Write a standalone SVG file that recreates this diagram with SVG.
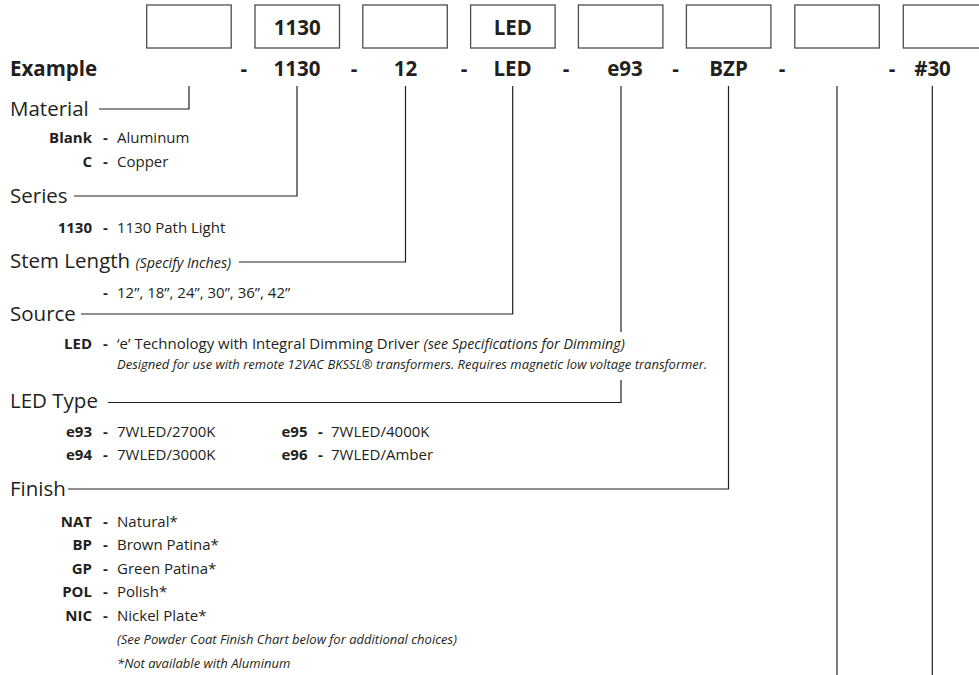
<svg xmlns="http://www.w3.org/2000/svg" width="979" height="675" viewBox="0 0 979 675">
<style>
text { font-family: "Open Sans", "Liberation Sans", sans-serif; fill: #231f20; }
.box { fill: #fff; stroke: #4d4d4d; stroke-width: 1.3; }
.bt { font-size: 20.5px; font-weight: 700; text-anchor: middle; }
.h { font-size: 20.5px; }
.ex { font-size: 20.5px; font-weight: 700; }
.exc { font-size: 20.5px; font-weight: 700; text-anchor: middle; }
.code { font-size: 15px; font-weight: 700; text-anchor: end; }
.dash { font-size: 15px; font-weight: 700; text-anchor: middle; }
.desc { font-size: 15px; }
.it { font-size: 13px; font-style: italic; }
.iti { font-size: 14.3px; font-style: italic; }
.conn { stroke: #231f20; stroke-width: 1.2; fill: none; }
</style>

<g id="code-boxes">
  <g id="box-material"><rect class="box" x="146.7" y="5" width="84.5" height="43"/></g>
  <g id="box-series"><rect class="box" x="255" y="5" width="84.5" height="43"/><text class="bt" x="297.2" y="35">1130</text></g>
  <g id="box-stem"><rect class="box" x="362.8" y="5" width="84.5" height="43"/></g>
  <g id="box-source"><rect class="box" x="470.6" y="5" width="84.5" height="43"/><text class="bt" x="512.8" y="35">LED</text></g>
  <g id="box-ledtype"><rect class="box" x="578.4" y="5" width="84.5" height="43"/></g>
  <g id="box-finish"><rect class="box" x="686.4" y="5" width="84.5" height="43"/></g>
  <g id="box-7"><rect class="box" x="794.8" y="5" width="84.5" height="43"/></g>
  <g id="box-8"><rect class="box" x="903.3" y="5" width="84.5" height="43"/></g>
</g>

<g id="example-row">
  <text class="ex" x="10" y="76">Example</text>
  <text class="exc" x="243.7" y="76">-</text>
  <text class="exc" x="297" y="76">1130</text>
  <text class="exc" x="354" y="76">-</text>
  <text class="exc" x="405.5" y="76">12</text>
  <text class="exc" x="464" y="76">-</text>
  <text class="exc" x="512.5" y="76">LED</text>
  <text class="exc" x="566" y="76">-</text>
  <text class="exc" x="625" y="76">e93</text>
  <text class="exc" x="675.5" y="76">-</text>
  <text class="exc" x="728.5" y="76">BZP</text>
  <text class="exc" x="782" y="76">-</text>
  <text class="exc" x="892" y="76">-</text>
  <text class="exc" x="932.5" y="76">#30</text>
</g>

<g id="connectors">
  <path class="conn" d="M99 109 H189 V86"/>
  <path class="conn" d="M74 196 H297 V86"/>
  <path class="conn" d="M239 262 H405.5 V86"/>
  <path class="conn" d="M81 314 H512.7 V86"/>
  <path class="conn" d="M621 86 V332"/>
  <path class="conn" d="M108 402.5 H621 V380"/>
  <path class="conn" d="M68 489 H728.5 V86"/>
  <path class="conn" d="M837 86 V675"/>
  <path class="conn" d="M932.3 86 V675"/>
</g>

<g id="material">
  <text class="h" x="10" y="116">Material</text>
  <text class="code" x="92" y="143">Blank</text><text class="dash" x="105.5" y="143">-</text><text class="desc" x="117" y="143">Aluminum</text>
  <text class="code" x="92" y="167">C</text><text class="dash" x="105.5" y="167">-</text><text class="desc" x="117" y="167">Copper</text>
</g>

<g id="series">
  <text class="h" x="10" y="203">Series</text>
  <text class="code" x="92" y="233">1130</text><text class="dash" x="105.5" y="233">-</text><text class="desc" x="117" y="233">1130 Path Light</text>
</g>

<g id="stem-length">
  <text class="h" x="10" y="268">Stem Length <tspan class="iti">(Specify Inches)</tspan></text>
  <text class="dash" x="105.5" y="298">-</text><text class="desc" x="117" y="298">12”, 18”, 24”, 30”, 36”, 42”</text>
</g>

<g id="source">
  <text class="h" x="10" y="321">Source</text>
  <text class="code" x="92" y="349">LED</text><text class="dash" x="105.5" y="349">-</text>
  <text class="desc" x="117" y="349">‘e’ Technology with Integral Dimming Driver <tspan class="iti">(see Specifications for Dimming)</tspan></text>
  <text class="it" x="117" y="369">Designed for use with remote 12VAC BKSSL® transformers. Requires magnetic low voltage transformer.</text>
</g>

<g id="led-type">
  <text class="h" x="10" y="408">LED Type</text>
  <text class="code" x="92" y="437">e93</text><text class="dash" x="105.5" y="437">-</text><text class="desc" x="117" y="437">7WLED/2700K</text>
  <text class="code" x="92" y="460">e94</text><text class="dash" x="105.5" y="460">-</text><text class="desc" x="117" y="460">7WLED/3000K</text>
  <text class="code" x="307.5" y="437">e95</text><text class="dash" x="320.5" y="437">-</text><text class="desc" x="331" y="437">7WLED/4000K</text>
  <text class="code" x="307.5" y="460">e96</text><text class="dash" x="320.5" y="460">-</text><text class="desc" x="331" y="460">7WLED/Amber</text>
</g>

<g id="finish">
  <text class="h" x="10" y="496">Finish</text>
  <text class="code" x="92" y="526.5">NAT</text><text class="dash" x="105.5" y="526.5">-</text><text class="desc" x="117" y="526.5">Natural*</text>
  <text class="code" x="92" y="550">BP</text><text class="dash" x="105.5" y="550">-</text><text class="desc" x="117" y="550">Brown Patina*</text>
  <text class="code" x="92" y="573.5">GP</text><text class="dash" x="105.5" y="573.5">-</text><text class="desc" x="117" y="573.5">Green Patina*</text>
  <text class="code" x="92" y="597">POL</text><text class="dash" x="105.5" y="597">-</text><text class="desc" x="117" y="597">Polish*</text>
  <text class="code" x="92" y="620.5">NIC</text><text class="dash" x="105.5" y="620.5">-</text><text class="desc" x="117" y="620.5">Nickel Plate*</text>
  <text class="it" x="117" y="644">(See Powder Coat Finish Chart below for additional choices)</text>
  <text class="it" x="117" y="667.5">*Not available with Aluminum</text>
</g>
</svg>
